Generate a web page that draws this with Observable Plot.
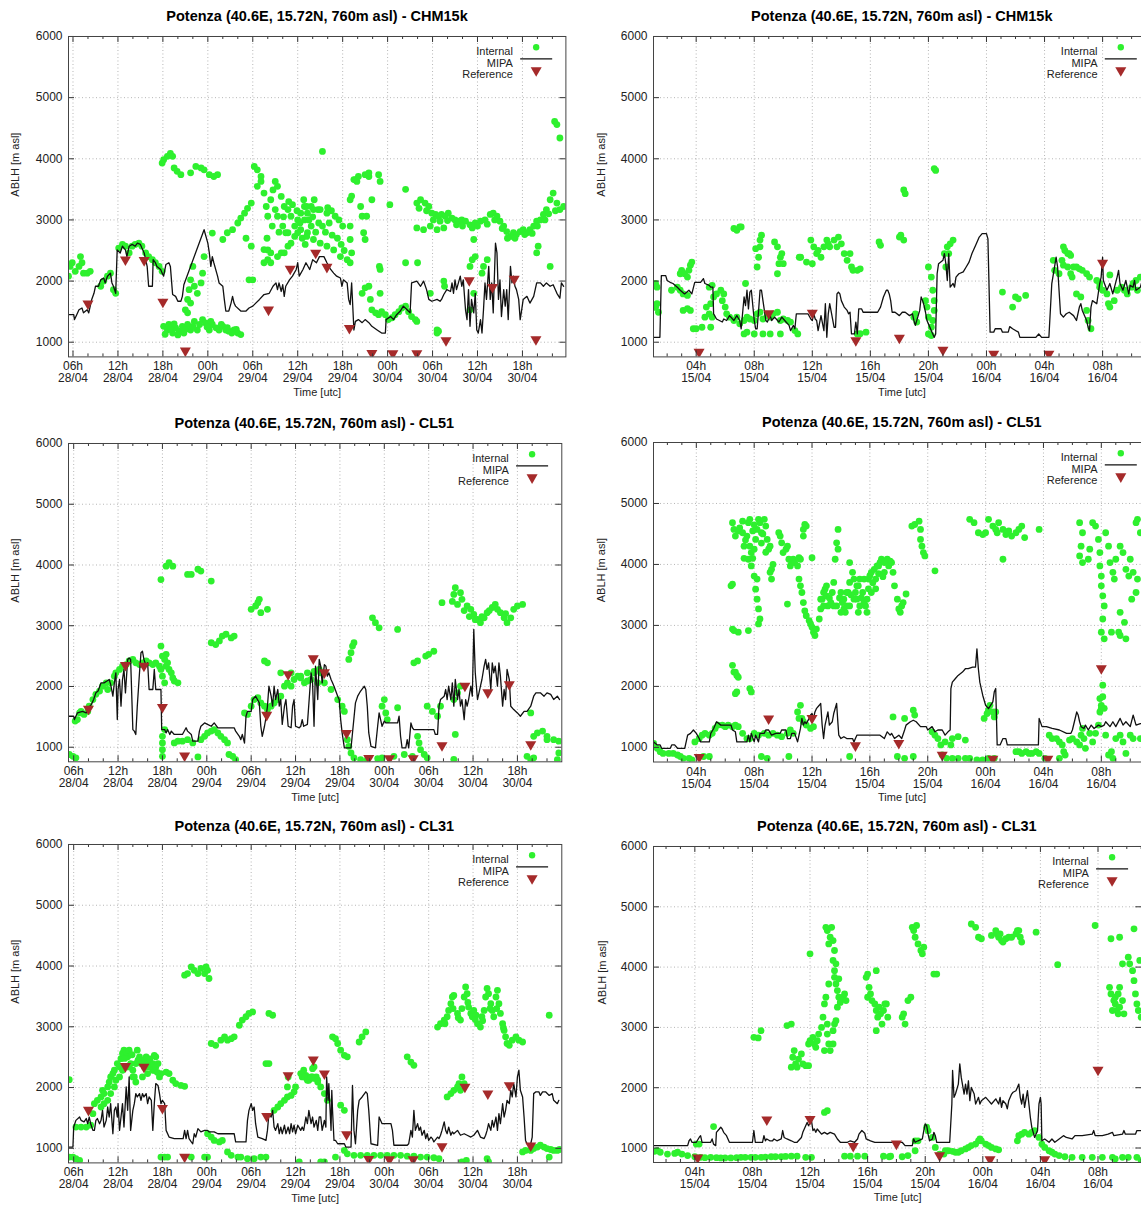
<!DOCTYPE html>
<html><head><meta charset="utf-8">
<script src="https://cdn.jsdelivr.net/npm/d3@7"></script>
<script src="https://cdn.jsdelivr.net/npm/@observablehq/plot@0.6"></script>
<style>
html,body{margin:0;padding:0;background:#fff;overflow:hidden;}
#root{position:relative;width:1141px;height:1208px;overflow:hidden;font-family:"Liberation Sans",Arial,Helvetica,sans-serif;background:#fff;}
.title{position:absolute;font-weight:bold;font-size:14.5px;color:#000;white-space:nowrap;transform:translate(-50%,-50%);}
svg{position:absolute;}
</style></head><body><div id="root"></div>
<script>
// ---- axis ticks (hours since 00h of first day) ----
const ticksApr28 = [6,12,18,24,30,36,42,48,54,60,66];
const minorApr28 = [8,10,14,16,20,22,26,28,32,34,38,40,44,46,50,52,56,58,62,64,68,70];
const ticksApr15 = [4,8,12,16,20,24,28,32];
const minorApr15 = [2,3,5,6,7,9,10,11,13,14,15,17,18,19,21,22,23,25,26,27,29,30,31,33,34,35];
const yTicks = [1000,2000,3000,4000,5000,6000];

// ---- Reference (triangles) ----
const reference28 = [[8,1630],[13,2350],[15.5,2340],[18,1660],[21,860],[32.1,1530],[35,2200],[38.4,2460],[39.9,2230],[42.9,1230],[45.9,820],[48.7,815],[51.9,815],[55.8,1030],[58.9,2010],[62,1900],[64.9,2035],[67.8,1045]];
const reference15 = [[4.2,840],[9,1470],[12,1480],[15,1030],[18,1070],[21,875],[24.5,810],[28.3,810],[32,2295]];

// ---- CHM15k 28-30/04 ----
const chm15k28Internal = [[5.4,2080],[5.6,2240],[5.9,2300],[6.3,2160],[6.8,2240],[7.0,2400],[7.2,2300],[7.4,2130],[7.9,2130],[8.3,2160],
[9.7,1915],[10.1,2000],[10.6,2080],[11,2130],[11.4,1860],[11.7,1800],
[12.1,2540],[12.6,2600],[13,2570],[13.5,2460],[13.9,2570],[14.3,2600],[14.8,2620],[15.2,2570],[15.7,2460],[16.1,2400],[16.6,2350],[17,2300],[17.5,2240],[17.9,2160],
[17.9,3930],[18.1,3985],[18.6,4040],[19,4090],[19.3,4040],[19.5,3850],[19.9,3795],[20.4,3740],[21.7,3770],[22.4,3875],[23.1,3850],[23.5,3820],[24.2,3740],[24.8,3710],[25.3,3740],
[18.1,1260],[18.6,1200],[18.8,1290],[19.3,1150],[19.7,1235],[20.2,1180],[20.6,1260],[20.8,1150],[21.3,1290],[21.7,1200],[22.2,1340],[22.6,1200],[23.3,1370],[23.7,1315],[24.2,1200],[24.6,1290],[25.1,1235],[25.5,1200],[26,1260],[26.4,1200],[26.8,1180],[27.5,1200],[28,1150],[28.4,1125],
[18.3,1130],[19,1220],[19.5,1300],[20,1120],[21,1210],[22,1260],[22.9,1290],[23.9,1250],[24.4,1340],[25.8,1290],[26.6,1240],[27.2,1150],[27.8,1210],
[21,1530],[21.3,1700],[21.5,1860],[21.7,2020],[22,2240],[22.2,1915],[22.6,1800],[23.1,1970],[23.3,2130],[23.5,2400],[21.3,1480],[21.7,1640],
[24.6,2785],[26,2680],[26.6,2790],[27.3,2840],[28,2950],[28.4,3030],[28.9,3110],[29.3,3190],[29.8,3275],[29.1,2700],[29.8,2570],[29.5,2020],[30,2020],
[30.2,3875],[30.6,3820],[31.1,3710],
[30.6,3550],[31.1,3630],[31.5,3440],[31.8,3220],[32,3060],[32.4,3330],[32.7,3490],[33,3630],[33.3,3550],[33.8,3385],[34.2,3220],[34.7,3170],[35.1,3060],[35.6,2900],[36,2790],[36.4,2840],[36.9,3000],[37.3,3110],[37.8,3220],[38.2,3330],[38.7,3170],[34.7,2790],[35.1,2620],[35.6,2730],[36,3000],[36.4,3110],[36.9,3220],[37.3,2790],[37.8,2900],[34.2,2460],[33.8,2460],[33.3,2400],[34.7,2570],[33,3170],[33.3,3060],[34,2900],[34.4,2790],[32,2510],[32.4,2460],[31.5,2300],[31.5,2515],[32,2350],[32.4,2300],
[31.9,2700],[32.6,2900],[33.5,2800],[34.1,3050],[34.8,3300],[35.3,3250],[35.9,3150],[36.3,2950],[36.6,2700],[37,2600],[37.5,3000],[38,3050],[38.4,2800],[38.8,2950],[39.3,2900],[39.7,2800],[40.2,2950],[40.6,2750],[41.3,2700],[41.8,2600],[42.2,2500],[40,3200],[40.5,3150],[41.5,3000],[42,2900],
[36.8,3330],[37.2,3220],[38.1,3170],[39,3170],[39.9,3110],[41,3060],[37.2,2730],[38.1,2680],[39,2620],[39.9,2570],[40.8,2510],[41.7,2400],[42.6,2350],[43,2300],
[43,3330],[43.2,3390],[43.5,3660],[43.9,3630],[44.4,3220],[44.6,3060],[44.8,2790],[45,2680],[45.2,3060],[45.5,3710],[45.9,3330],[43,2900],[43,2680],[43.2,2460],
[43.7,3660],[44.1,3710],[45,3740],[45.5,3770],[46.8,3740],[47,3630],
[44.6,1800],[45,1890],[45.5,1915],[45.7,1700],[45.9,1530],[46.4,1480],[46.8,1450],[47.2,1500],[47.7,1450],[48.1,1370],[48.6,1400],[49,1450],[49.5,1500],[49.9,1560],[50.4,1590],[50.8,1500],[51.2,1420],[51.7,1370],[51.9,1340],
[47,2190],[46.9,2240],[47,1800],[48.3,3250],[50.4,3500],[50.4,2300],[52,2300],[53.7,1800],[54.6,1200],[54.6,1150],[54.8,1180],[55.5,2000],[55.6,1915],[39.3,4120],
[51.9,3275],[52.4,3330],[53,3275],[53.5,3220],[53.9,3110],[54.4,3090],[54.8,3060],[55.2,3090],[55.7,3060],[56.1,3110],[56.6,3030],[57,3000],[57.5,2980],[57.9,3000],[58.4,2980],[59,2920],[59.7,2950],[60.4,2980],[61,3000],[61.7,3090],[62.1,3110],[62.6,3060],[63,2980],[63.5,2900],[63.9,2810],[64.4,2730],[64.8,2790],[65.2,2760],[65.7,2810],[66.1,2840],[66.6,2790],[67,2840],[67.5,2900],[67.9,2980],[68.4,3000],[68.8,3090],[69.2,3170],[69.7,3330],[70.1,3440],[70.6,3275],[71,3170],[71.5,3220],
[52.2,3190],[53.2,3150],[54.1,3000],[55,2980],[56,2990],[57.2,2920],[58,2900],[59.3,2870],[60,2900],[61.3,2930],[62.3,3000],[63.3,2860],[64,2700],[65,2700],[66.3,2760],[67.3,2780],[68,2900],[69,3000],[69.5,3100],[70.4,3150],
[51.9,2870],[52.8,2840],[53.7,2900],[54.6,2840],[55.5,2870],
[59.5,2680],[59.3,2350],[59,2240],[59.7,2400],[60.8,2240],[60.6,2130],[61.3,2350],[59,1530],[59.5,1800],[67.9,2460],[68.1,2570],[69.7,2240],[70.3,4610],[70.6,4560],[71,4340]];
const chm15k28Mipa = [[5.4,1450],[6.1,1450],[6.2,1370],[6.5,1450],[6.8,1530],[7.2,1560],[7.4,1480],[7.9,1530],[8.1,1480],[8.3,1590],[8.5,1700],[8.8,1800],[9,1915],[9.4,1915],[9.7,2020],[10.1,2050],[10.3,1970],[10.6,2080],[11,2130],[11.2,1970],[11.4,1915],[11.7,1800],[11.9,2510],[12.3,2460],[12.6,2570],[13,2510],[13.2,2400],[13.5,2570],[13.9,2600],[14.3,2570],[14.6,2620],[15,2600],[15.2,2540],[15.5,2460],[15.7,2350],[15.9,2240],[16.1,1915],[16.6,1915],[16.7,2350],[17,2300],[17.2,2240],[17.7,2190],[17.9,2130],[18.1,2080],[18.4,2270],[18.8,2300],[19,2240],[19.3,1780],[19.7,1750],[20,1670],[20.4,1670],[20.6,1750],[20.8,1940],[23.5,2840],[24,2620],[24.2,2460],[24.4,2240],[24.6,2400],[24.8,2300],[25.3,2080],[25.5,1970],[26,1915],[26.2,1700],[26.4,1510],[26.8,1510],[27.1,1640],[27.3,1750],[27.5,1640],[27.7,1590],[28.4,1510],[29.1,1510],[29.5,1560],[30,1590],[30.4,1640],[30.9,1700],[31.5,1780],[32.2,1800],[32.7,1915],[33.1,1970],[33.3,1860],[33.5,1970],[33.8,1830],[34,1940],[34.2,1750],[34.4,1915],[34.9,2020],[35.3,2080],[35.8,2190],[36,2300],[36.2,2080],[36.7,2190],[37.1,2300],[37.6,2190],[38,2350],[38.5,2300],[38.9,2400],[39.5,2400],[39.9,2300],[40.4,2190],[40.8,2130],[41.2,2080],[41.7,2050],[41.9,1915],[42.1,2020],[42.6,1970],[42.8,1700],[43,1615],[43.2,1970],[43.5,1200],[43.7,1340],[44.1,1370],[44.6,1320],[45,1370],[45.5,1320],[45.9,1260],[46.6,1200],[47.2,1150],[47.7,1150],[47.8,1370],[48.4,1420],[48.8,1370],[49.2,1450],[49.7,1510],[50.1,1590],[50.6,1530],[51,1480],[51.2,1970],[51.9,2000],[52.4,1915],[52.8,2000],[53.2,1860],[53.5,1700],[53.9,1670],[54.6,1700],[55,1670],[55.2,1700],[55.5,1780],[55.9,1860],[56.4,1830],[56.6,1970],[56.8,1800],[57,2020],[57.2,1860],[57.7,2080],[57.9,1915],[58.1,2020],[58.4,1530],[58.6,1370],[58.8,1860],[59,1260],[59.2,1700],[59.5,1480],[59.7,1800],[59.9,1200],[60.1,1150],[60.4,1370],[60.6,1150],[60.8,1530],[61,1970],[61.2,1700],[61.5,2240],[61.7,1700],[61.9,1970],[62.1,1480],[62.4,2620],[62.6,2460],[62.8,1700],[63,2020],[63.2,1420],[63.5,1860],[63.7,1590],[63.9,1860],[64.1,1370],[64.4,2240],[64.6,1970],[64.8,2080],[65,1915],[65.2,1860],[65.5,1700],[65.7,1370],[65.9,1530],[66.1,1700],[66.6,1750],[67,1640],[67.5,1750],[67.9,1970],[68.4,1970],[68.8,1915],[69.2,1970],[69.7,1915],[70.1,1940],[70.6,1800],[71,1720],[71.2,1970],[71.5,1915]];

// ---- CHM15k 15-16/04 ----
const chm15k15Internal = [[1.2,1960],[1.3,1900],[1.2,1570],[1.4,1490],[1.3,1630],
[2.9,2120],[3,2175],[3.2,2120],[3.4,2065],[3.6,2260],[3.7,2310],[3.5,2175],[3.1,1520],[3.4,1550],[3.6,1520],[2.9,1850],[3.1,1790],[3.4,1765],[2.7,1900],[2.3,1850],
[3.8,1220],[4,1220],[4.4,1245],[4.6,1410],[4.9,1465],[5.1,1410],[5,1245],[4.7,1575],[5,1630],[5.2,1740],[5.4,1790],[5.7,1850],[5.8,1680],[5.9,1790],[5.1,1930],[4.9,1900],[6,1575],
[6.1,1465],[6.3,1410],[6.6,1355],[6.8,1410],[7,1300],[7.3,1355],[7.5,1410],[7.7,1380],[8,1355],[8.2,1465],[8.4,1490],[8.6,1380],[8.9,1435],[9.1,1410],[9.3,1465],[9.6,1490],[9.8,1355],[10,1380],[10.3,1355],[10.5,1330],[10.8,1190],[11,1135],
[7.3,1135],[7.5,1165],[8,1135],[8.6,1135],[9.1,1135],[9.8,1135],
[6.6,2860],[6.8,2830],[7,2885],[7.1,2885],
[7.4,1960],[8.2,2230],[8.3,2390],[8.4,2560],[8.5,2750],[8.4,2670],[8.1,2530],
[9.4,2640],[9.6,2560],[9.7,2285],[9.8,2390],[9.9,2450],[10,2285],[9.6,2120],[11.1,2390],[11.2,2390],
[11.6,2310],[11.9,2670],[12,2285],[12.1,2560],[12.3,2450],[12.4,2500],[12.6,2390],[12.8,2560],[13,2670],[13.1,2610],[13.2,2560],[13.5,2670],[13.7,2560],[13.8,2720],[14,2610],[14.2,2450],[14.4,2340],[14.6,2450],[14.7,2230],[14.8,2175],[15.1,2175],[15.3,2200],
[15.1,1135],[15.3,1140],[15.7,1165],[16.6,2640],[16.7,2585],
[18,2720],[18.1,2750],[18.3,2670],[18.3,3490],[18.4,3430],[20.4,3840],[20.5,3810],
[20,2230],[20.2,2065],[20.3,1850],[20.4,1680],[20.4,1520],[20.3,1355],[20.2,1245],[20,1410],[19.9,1575],[19.8,1680],[19.1,1465],[19,1410],[19.2,1330],[20,1135],[20.2,1110],
[21.1,2450],[21.3,2560],[21.4,2450],[21.5,2610],[21.7,2670],[21.2,2230],
[25.1,1820],[25.8,1575],[26,1740],[26.2,1710],[26.7,1765],
[28.6,2340],[28.7,2175],[29,2120],[29.3,2560],[29.4,2500],[29.6,2450],[29.7,2450],[29.8,2420],[29.2,2340],[29.3,2260],[29.6,2230],[30,2230],[30.2,2230],[30.4,2200],[30.6,2175],[30.9,2120],[31.1,2065],[31.6,2010],[31.8,1960],[29.8,2120],[29.9,2065],[30.2,1790],[30.5,1740],[30.9,1520],[31,1355],[31.2,1220],
[31.8,1900],[32,1850],[32.3,1790],[32.4,1630],[32.5,1575],[32.8,1680],[33,1850],[33.3,1900],[33.5,1850],[33.7,1790],[34,1900],[34.1,1960],[34.3,2010],[34.6,2065],[34.4,1850],[32.5,2100]];
const chm15k15Mipa = [[1.06,1080],[1.5,1080],[1.6,2090],[1.9,2090],[2,2010],[2.2,1980],[2.4,1960],[2.7,1900],[2.9,1850],[3.2,1790],[3.5,1850],[3.7,1790],[3.9,1980],[4.3,1980],[4.5,2040],[4.6,1960],[4.9,1930],[5,1900],[5.15,1900],[5.2,1465],[5.4,1380],[5.8,1330],[5.9,1380],[6.1,1355],[6.3,1435],[6.6,1355],[6.8,1435],[7,1355],[7.1,1220],[7.3,1740],[7.4,1600],[7.5,1850],[7.6,1545],[7.7,1820],[7.8,1850],[8,1355],[8.1,1220],[8.2,1220],[8.3,1520],[8.4,1850],[8.5,1850],[8.6,1680],[8.8,1355],[8.9,1330],[9.1,1435],[9.2,1355],[9.4,1410],[9.7,1330],[9.9,1410],[10.1,1355],[10.4,1275],[10.5,1190],[10.7,1275],[10.8,1220],[10.9,1465],[11.3,1465],[11.5,1465],[11.7,1465],[11.9,1380],[12,1355],[12.1,1465],[12.2,1380],[12.3,1355],[12.4,1190],[12.6,1435],[12.8,1190],[12.9,1630],[13,1080],[13.1,1465],[13.2,1630],[13.5,1245],[13.6,1245],[13.7,1790],[13.8,1820],[13.9,1790],[14,1680],[14.2,1575],[14.4,1520],[14.5,1465],[14.6,1490],[14.7,1135],[14.9,1135],[15,1330],[15.1,1135],[15.2,1545],[15.4,1545],[15.5,1490],[15.8,1490],[16,1490],[16.5,1490],[16.7,1575],[16.9,1740],[17.1,1850],[17.2,1850],[17.3,1790],[17.4,1680],[17.5,1490],[17.7,1490],[18,1435],[18.2,1490],[18.4,1490],[18.7,1435],[18.9,1465],[19,1355],[19.1,1275],[19.4,1520],[19.5,1740],[19.6,1680],[19.7,1600],[19.8,1490],[19.9,1355],[20,1300],[20.3,1135],[20.4,1080],[20.5,1135],[20.6,2120],[20.7,2285],[21,2340],[21.1,2450],[21.2,2285],[21.3,2010],[21.4,2450],[21.5,1900],[21.7,1960],[21.8,1900],[21.9,2065],[22.1,2120],[22.4,2150],[22.6,2230],[22.8,2310],[23,2450],[23.3,2610],[23.5,2720],[23.7,2775],[24,2775],[24.1,2690],[24.2,1680],[24.25,1165],[24.5,1165],[24.6,1220],[25,1220],[25.1,1165],[25.5,1165],[25.6,1255],[25.8,1220],[26.2,1165],[26.3,1080],[26.7,1080],[27.4,1080],[27.6,1135],[27.8,1080],[28.3,1080],[28.5,1960],[28.8,2390],[28.9,2230],[29,1850],[29.1,1465],[29.3,1410],[29.5,1465],[29.7,1490],[30,1435],[30.2,1355],[30.4,1575],[30.5,1630],[30.6,1520],[30.9,1355],[31,1245],[31.1,1190],[31.2,1575],[31.3,1680],[31.6,1630],[31.8,1960],[31.9,2065],[32,2390],[32.05,2010],[32.3,1850],[32.5,1960],[32.7,1790],[33,2065],[33.1,2175],[33.2,1960],[33.4,1850],[33.6,2010],[33.8,1790],[33.9,1930],[34.1,1900],[34.2,2010],[34.3,1850],[34.6,1900],[34.8,2065],[35.1,1950]];

// ---- CL51 28-30/04 ----
const cl51_28Internal = [[5.4,880],[5.9,850],[6.3,825],[6.2,1430],[6.5,1455],[6.8,1565],[7,1590],[7.4,1540],[7.9,1590],[8.1,1675],[8.6,1785],[9,1870],[9.5,1925],[9.9,2005],[10.4,2060],[10.6,1950],[11,2060],[11.5,2170],[11.7,2225],[12.2,2280],[12.6,2335],[13.1,2360],[13.5,2420],[14,2445],[14.4,2390],[14.9,2360],[15.3,2390],[15.8,2420],[16.2,2390],[16.7,2360],[17.1,2390],[17.6,2335],[17.8,2665],[18,2500],[18.3,2445],[18.5,2530],[18.7,2390],[18.9,2280],[19.2,2225],[19.4,2140],[19.6,2090],[20.1,2060],[17.8,2280],[18,2170],[18.3,2060],[18.5,2335],
[18,1180],[18,1070],[18,960],[18,850],[18.3,1290],
[17.8,3760],[18.5,3980],[18.9,4040],[19.4,3980],[21.4,3845],[21.9,3845],[22.8,3930],[23.2,3900],[24.6,3735],
[24.6,2720],[25.2,2690],[25.7,2750],[26.1,2830],[26.6,2860],[27.3,2800],[27.7,2830],
[30,3270],[30.6,3325],[30.9,3380],[31.1,3435],[31.3,3215],[32.2,3270],[31.8,2420],[32.2,2390],
[19.6,1070],[20.1,1100],[20.7,1100],[21.4,1125],[22.1,1070],[22.8,840],[23.2,1125],[23.7,1180],[24.1,1235],[24.6,1265],[25,1290],[25.5,1235],[25.9,1180],[26.4,1125],[26.8,1070],[27,880],[27.5,850],[27.9,795],
[29.1,1565],[29.5,1540],[30,1675],[30.4,1785],[30.9,1815],[31.3,1730],[31.8,1675],[32.2,1620],[32.7,1675],[33.1,1730],[33.6,1785],[34,1840],[34.5,2005],[34.9,2060],[35.4,2005],[35.8,2115],[36.3,2170],[36.7,2140],[37.2,2060],[37.6,2090],[38.1,2115],[38.5,2225],[39,2060],[39.2,2280],[34,2225],[35.4,2225],
[36.7,2170],[37.6,2225],[38.5,2250],[39.4,2225],[39.9,2060],[40.8,1950],[41.7,1785],[42.3,1675],[42.6,1590],[43,1125],[43.2,1015],[43.5,905],[43.9,825],[44.8,795],[45.7,795],[47.1,810],[47.7,825],[49.3,850],[50.7,880],[51.8,850],
[43.2,2445],[43.5,2555],[43.7,2665],[43.9,2720],[46.4,3130],[46.8,3050],[47.3,2965],[49.8,2940],
[47.7,1675],[48,1785],[48.2,1565],[48.4,1455],[49.8,1650],
[52,2390],[52.5,2420],[53.6,2500],[54,2530],[54.7,2580],
[52.5,1180],[52.7,1070],[52.9,960],[53.4,880],[53.8,825],
[53.8,1675],[54.5,1590],[55.2,1510],[55.6,1675],[55.8,3380],[57.4,3515],[57.6,3625],[58.3,3545],[58.5,3435],[59.2,3325],[59.7,3270],[60.1,3185],[60.6,3105],[61,3050],[61.5,3130],[61.9,3215],[62.6,3300],[63.3,3270],[63.7,3215],[64.2,3130],[64.6,3050],[65.1,3130],[65.5,3270],[66,3325],[66.7,3350],
[57.2,3400],[57.9,3350],[58.8,3250],[59.5,3150],[60.3,3100],[61.2,3150],[62.2,3250],[63,3350],[64.4,3200],
[58.3,2005],[57.9,1895],[57.4,1785],[57.6,1210],[57.4,800],
[67.8,1565],[67.3,850],[67.8,795],[68.2,825],[68.2,1180],[68.7,1235],[69.4,1265],[70,1180],[70.9,1125],[71.6,1100],[71.6,905],[71.4,795],[70,1125]];
const cl51_28Mipa = [[5.4,1510],[6,1510],[6.1,1455],[6.5,1565],[7.2,1590],[7.7,1565],[8,1650],[8.4,1705],[8.7,1785],[9,1895],[9.3,1925],[9.7,2060],[10.1,2060],[10.5,2090],[10.8,2115],[11,2035],[11.3,1840],[11.5,2060],[11.7,2225],[11.9,1455],[12,1950],[12.2,2115],[12.4,1675],[12.6,2115],[12.8,2280],[13,1895],[13.3,2445],[13.5,2470],[13.7,2445],[14,1290],[14.2,1265],[14.4,1210],[14.6,1675],[14.9,2225],[15.1,2555],[15.3,2580],[15.5,2445],[15.8,2335],[16,2390],[16.2,1950],[16.7,1950],[16.9,2280],[17.1,1950],[17.8,1950],[17.9,1290],[18.3,1290],[18.5,1235],[18.7,1290],[19,1210],[19.2,1265],[19.6,1210],[20.1,1210],[20.7,1210],[21.2,1320],[21.4,1265],[21.9,1210],[22.1,1100],[22.8,1100],[23,1265],[23.2,1345],[23.7,1400],[24.1,1375],[24.6,1345],[25,1400],[25.5,1320],[27.7,1320],[27.9,1265],[28.4,1180],[28.6,1125],[28.8,1210],[29.1,1070],[29.3,1510],[29.5,1590],[30,1590],[30.2,1785],[30.6,1840],[31.1,1730],[31.3,1345],[31.5,1180],[31.8,1345],[32,1485],[32.2,1675],[32.4,2005],[32.7,1840],[32.9,1675],[33.1,2005],[33.3,1785],[33.6,1950],[33.8,1675],[34,1785],[34.2,1375],[34.5,1675],[34.7,1785],[35,1345],[35.4,1320],[35.6,1675],[35.8,1785],[36,1345],[36.5,1320],[36.7,1345],[36.9,1455],[37.1,1345],[37.6,1375],[38.1,2225],[38.3,2060],[38.5,1345],[38.7,2335],[39,1785],[39.2,2445],[39.4,2335],[39.6,2060],[39.9,2360],[40.1,2335],[40.3,2170],[40.5,2225],[40.8,2115],[41,2060],[41.2,2005],[41.7,1840],[41.9,1785],[42.1,1455],[42.3,1235],[42.6,990],[43.5,990],[43.7,1235],[44.1,1730],[44.4,1840],[44.8,1925],[45.3,2005],[45.5,1950],[45.7,1675],[45.9,1235],[46.2,1015],[46.8,990],[47.1,1345],[47.3,1565],[47.5,1455],[47.7,1345],[48,1430],[48.2,1400],[48.6,1400],[49.8,1400],[50,1510],[50.2,1180],[50.4,990],[50.9,990],[51.1,1125],[51.3,990],[51.6,1400],[51.8,1320],[52,1290],[52.5,1290],[54.7,1290],[54.9,1210],[55.2,1210],[55.4,1675],[55.6,1785],[56.1,1840],[56.3,1950],[56.5,1785],[56.7,2005],[57,1785],[57.2,2060],[57.4,1675],[57.6,2115],[57.9,1785],[58.1,1950],[58.3,1675],[58.5,1785],[58.8,1455],[59,1785],[59.2,1675],[59.4,1785],[59.7,2005],[59.9,1840],[60.1,2940],[60.3,2225],[60.6,1785],[60.8,1895],[61,2005],[61.2,2115],[61.5,2335],[61.7,2445],[61.9,2280],[62.1,2390],[62.4,1950],[62.6,2390],[62.8,2225],[63,2335],[63.3,2005],[63.5,2390],[63.7,2170],[64,1675],[64.2,1950],[64.4,1785],[64.6,2280],[64.9,2115],[65.1,1675],[65.5,1620],[66,1565],[66.4,1510],[66.9,1590],[67.3,1590],[67.8,1675],[68.2,1840],[68.5,1895],[69.1,1895],[69.6,1840],[70,1895],[70.5,1870],[70.9,1785],[71.4,1840],[71.7,1785]];

// ---- CL51 15-16/04 ----
const cl51_15Internal = [[1.05,1065],[1.3,985],[1.5,930],[1.7,900],[2.1,900],[2.4,900],[2.7,875],[2.9,850],[3.1,820],[3.5,820],[3.7,795],
[3.9,1090],[4.2,1145],[4.4,1200],[4.6,1230],[4.9,1200],[5.1,1230],[5.3,1310],[5.5,1365],[5.8,1365],[6,1340],[6.2,1365],[6.5,1340],[6.7,1365],[6.9,1340],[7.2,1230],[7.5,1145],[7.7,1145],[8,1230],[8.3,1200],[8.7,1230],[9,1200],[9.3,1230],[9.6,1200],[9.9,1175],[10.3,1230],[10.5,1285],[10.7,1230],[11,1580],[11.1,1475],[11.2,1690],[11.3,1475],[11.4,1420],[11.6,1365],[11.9,1310],[12.1,1340],
[4.5,850],[4.9,850],[8.5,850],[8.9,820],[10.4,850],[14.6,850],
[6.5,2345],[6.6,2235],[6.7,2235],[6.8,2180],[6.9,2150],[6.8,1910],[6.7,1880],[7.7,1965],[7.8,1910],[6.5,2940],[6.6,2915],[6.9,2890],[7.6,2915],[8.3,3025],
[6.4,3650],[6.5,3675],[6.5,4685],[6.6,4575],[6.7,4465],[6.9,4550],[7.2,4520],[7.3,4300],[7.5,4465],[7.7,4300],[7.8,4195],[8,4250],[8.1,4410],[8.2,4575],[8.3,4740],[8.4,4685],[8.5,4520],[8.7,4740],[8.8,4630],[8.9,4410],[9,4250],[9.1,4300],[7.6,4085],[7.8,3975],[8,3810],[7.7,4740],[7.2,4710],[7.6,4685],
[7,4600],[7.4,4400],[7.9,4550],[8.6,4500],[8.8,4200],[9.3,4000],[7.3,4100],[7.9,4100],[8.5,4350],[8,4650],
[8.1,3595],[8.2,3430],[8.3,3270],[8.4,3105],[8.2,3760],[9.1,3870],[9.2,3760],[9.2,3920],
[9.7,4520],[9.8,4465],[9.9,4355],[10,4195],[10.2,4250],[10.3,4300],[10.4,4085],[10.5,3975],[10.6,4030],[10.7,4085],[10.8,4030],[11,3975],[11.1,4110],[11.2,4085],[11.4,4575],[11.5,4655],[11.6,4630],[11.4,4465],[10.3,3350],
[11.1,3760],[11.2,3650],[11.3,3540],[11.4,3375],[11.5,3240],[11.6,3160],[11.8,3080],[11.9,3025],[12,2970],[12.1,2890],[12.2,2835],[12.3,2940],[12.5,3105],[12.6,3270],[12.7,3430],[12.8,3540],[12.9,3595],[13,3485],[13.1,3320],[13.3,3375],[13.4,3540],[13.5,3705],[13.6,4085],[13.7,4355],[13.8,4575],[13.8,4250],[14,3540],[14.1,3375],[14.2,3270],[14.3,3215],[14.4,3320],[14.5,3540],[14.6,3705],[14.8,3870],[14.9,3760],[15,3540],[15.1,3430],[15.2,3650],[15.3,3760],[15.5,3540],[15.6,3375],[15.7,3320],[15.8,3430],[15.9,3760],[16,3815],[16.1,3870],[16.3,3920],[16.5,3975],[16.7,4030],[17,4055],[17.2,4085],[17.4,4055],
[12.6,3430],[12.8,3320],[13,3650],[13.5,3320],[13.7,3320],[14,3215],[14.2,3430],[14.4,3540],[14.6,3320],[14.9,3430],[15.1,3650],[15.3,3320],[15.6,3760],[15.8,3215],[16.1,3540],[16.4,3760],[17,3870],[15.2,3215],[14.6,4030],[12,4110],
[13.2,3450],[13.9,3450],[14.7,3500],[15.4,3450],[16.2,3700],[16.6,3850],[16.9,3800],[15.9,3600],[16.4,3600],
[16.6,3975],[16.8,4085],[17,4030],[17.3,3975],[17.5,4030],[17.6,3870],[17.7,3650],[17.9,3430],[18,3270],[18.1,3215],[18.2,3320],[18.3,3375],[18.5,3515],
[18.9,4630],[19.1,4655],[19.4,4710],[19.5,4575],[19.5,4410],[19.6,4300],[19.7,4195],[19.8,4140],[20.5,3895],
[22.9,4740],[23.2,4685],[23.5,4520],[23.8,4490],[24,4520],[24.2,4740],[24.5,4630],[24.7,4575],[24.8,4520],[24.9,4685],[25.2,4575],[25.4,4490],[25.6,4550],[25.8,4465],[26.1,4520],[26.3,4575],[26.5,4630],[26.7,4440],[27.7,4575],[25.2,4085],
[17.6,1500],[17.9,850],[18.4,820],[19,850],[18.4,1475],[19,1610],[19.1,1530],[20.3,1255],[20.5,1200],[20.7,1145],[20.9,1040],[21,875],[21.3,820],[21.7,820],[22.1,820],[22.6,820],[22.9,820],[23.4,795],[23.8,795],[21.2,1090],[21.6,1040],[21.7,1145],[22.1,1175],[22.6,1120],
[23.9,1475],[24.1,1555],[24.2,1610],[24.5,1580],[24.6,1500],[24.7,1580],[24.3,1690],[24.2,820],[24.6,820],
[26.1,930],[26.3,930],[26.5,900],[26.8,930],[27,900],[27.2,900],[27.5,930],[27.7,900],[28.1,820],[28.4,1200],[28.6,1145],[28.9,1145],[29.1,1090],[29.3,1040],[29.4,930],[29.1,820],[29.5,875],[29.8,1120],[30,1145],[30.3,1090],[30.5,1040],[30.6,1200],[30.7,1310],[30.8,1145],[30.9,985],[31.2,1230],[31.4,1090],[31.6,1230],[31.8,1365],[31.9,1580],[32,1690],[32.1,1830],[32.2,1640],[32.3,1200],[32.5,875],[32.7,930],[32.8,820],[33,1145],[33.3,1200],[33.5,1090],[33.7,900],[34,1200],[34.2,1145],[34.7,1145],
[30.5,4685],[30.7,4520],[30.6,4300],[30.5,4140],[30.7,4030],[31.1,4085],[31.2,4250],[31.4,4685],[31.6,4630],[31.8,4410],[31.9,4195],[31.9,3975],[32,3810],[32,3650],[32.1,3485],[32.2,3320],[32.1,3105],[32,2890],[32.2,2780],[32.3,4520],[32.5,4300],[32.6,4030],[32.8,3870],[32.9,3760],[33,4085],[33.3,4300],[33.5,4195],[33.7,3920],[33.9,3810],[34,4085],[34.2,3870],[34.4,3540],[34.5,3760],[34.7,4520],[34.5,4740],[33.3,3215],[33.6,3050],[33.2,2890],[32.7,2890],[33.3,2835],[33.7,2780],[34.1,3430],[34.4,4685],[31.9,1800],[32.1,2020],[32,1640]];
const cl51_15Mipa = [[1.05,1090],[1.3,1040],[1.5,1040],[1.6,985],[2.2,985],[2.3,1040],[2.5,1040],[2.7,985],[3.2,985],[3.4,1200],[3.6,1230],[3.8,1285],[4,1230],[4.2,1145],[4.3,1090],[4.9,1090],[5,1230],[5.2,1310],[5.3,1365],[5.4,1420],[5.7,1365],[6.4,1365],[6.5,1285],[6.7,1255],[6.8,1090],[7.5,1090],[7.6,1200],[7.7,1090],[7.8,1230],[8,1090],[8.1,1200],[8.3,1090],[8.4,1230],[8.7,1230],[8.8,1285],[9,1285],[9.2,1200],[9.5,1230],[9.8,1230],[9.9,1285],[10.2,1285],[10.3,1145],[10.5,1145],[10.6,1230],[10.8,1230],[11,1090],[11.1,1200],[11.2,1310],[11.3,1475],[11.4,1365],[11.5,1420],[11.6,1390],[11.8,1475],[11.9,1530],[12,1555],[12.1,1475],[12.2,1580],[12.3,1635],[12.5,1690],[12.6,1720],[12.7,1365],[12.8,1145],[12.9,1365],[13.1,1580],[13.2,1365],[13.4,1420],[13.5,1555],[13.7,1720],[13.8,1365],[13.85,1200],[14,1145],[14.2,1175],[14.4,1145],[14.8,1145],[14.9,1090],[15,1145],[15.1,1200],[15.6,1200],[16,1200],[16.7,1200],[17,1145],[17.2,1255],[17.4,1200],[17.5,1230],[17.7,1145],[18,1200],[18.2,1145],[18.4,1285],[18.5,1365],[18.8,1420],[19,1445],[19.2,1420],[19.5,1340],[19.7,1340],[19.9,1340],[20,1285],[20.3,1340],[20.5,1255],[20.7,1285],[21,1285],[21.2,1200],[21.4,1255],[21.55,1285],[21.6,1965],[21.7,2070],[21.9,2125],[22.1,2180],[22.4,2235],[22.6,2290],[22.8,2290],[23.1,2315],[23.3,2315],[23.4,2615],[23.5,2290],[23.6,2070],[23.8,1855],[24,1690],[24.2,1635],[24.5,1745],[24.6,1910],[24.7,1965],[24.8,1040],[25,1040],[25.2,1145],[25.4,1145],[25.5,1040],[25.8,1040],[26.3,1040],[27.2,1040],[27.65,1040],[27.7,1475],[27.9,1340],[28.2,1340],[28.6,1310],[29.1,1285],[29.6,1230],[29.9,1230],[30,1285],[30.3,1580],[30.4,1530],[30.5,1420],[30.6,1340],[30.8,1310],[30.9,1365],[31.1,1285],[31.3,1365],[31.5,1310],[31.8,1365],[32,1340],[32.2,1365],[32.3,1420],[32.6,1340],[32.8,1420],[33,1340],[33.3,1475],[33.5,1365],[33.7,1420],[34,1340],[34.2,1530],[34.4,1365],[34.7,1390],[35.1,1380]];

// ---- CL31 28-30/04 ----
const cl31_28Internal = [[5.4,2130],[5.4,855],[5.9,855],[6.3,830],[6.8,800],
[6.3,1350],[7,1350],[7.7,1350],[8.3,1380],[8.6,1570],[8.8,1735],[9.2,1790],[9.7,1845],[9.9,1955],[10.1,1900],[10.6,2010],[10.8,2090],[11,2175],[11.3,2230],[11.5,2285],[11.7,2120],[11.9,2395],[12.2,2340],[12.4,2475],[12.6,2560],[12.8,2615],[13.1,2585],[13.3,2505],[13.5,2615],[13.7,2395],[14,2285],[14.2,2175],[14.4,2395],[14.6,2615],[14.9,2505],[15.1,2395],[15.3,2420],[15.5,2450],[15.8,2505],[16,2395],[16.2,2340],[16.5,2365],[16.7,2285],[16.9,2285],[17.1,2505],[17.4,2395],[17.6,2175],[17.8,2230],[18.5,2255],[18.9,2230],[19.4,2120],[19.8,2065],[20.5,2035],[21,2020],
[9.7,1680],[10.1,1735],[10.6,1790],[11,1900],[11.5,2010],[12.2,2175],[12.6,2285],[13.1,2340],[13.5,2340],[14,2175],[14.4,2090],[15.3,2175],[16,2230],[16.7,2395],[17.1,2340],[16.9,2530],[12.9,2480],[13.9,2540],[14.7,2450],[15.6,2330],[16.3,2470],[17.3,2250],
[17.8,855],[18.3,855],[18.7,855],[21.9,855],[23.7,855],[24.1,855],
[21,3850],[21.4,3875],[21.9,3985],[22.3,3930],[22.8,3875],[23.2,3960],[23.7,3875],[23.9,3985],[24.1,3930],[24.3,3795],
[24.6,2725],[25.2,2695],[25.9,2780],[26.4,2835],[26.8,2780],[27.3,2805],[27.7,2835],[28.4,3025],[28.8,3110],[29.3,3165],[29.7,3220],[30.2,3245],[32.4,3220],[32.9,3190],
[24.1,1240],[24.6,1185],[25,1130],[25.7,1105],[26.1,1130],
[26.8,940],[27.3,885],[28.2,855],[28.6,855],[29.5,830],[30.4,830],[31.3,855],[32,855],
[32,2395],[32.4,2395],
[33.1,1625],[33.6,1680],[34,1735],[34.5,1790],[34.9,1845],[35.4,1870],[35.8,1930],[36,2010],[34.9,2010],[35,2175],[36.5,775],
[36.9,2175],[37.4,2200],[37.8,2120],[38.3,2175],[38.5,2340],[38.8,2175],[39,2120],[37.1,2285],[38.3,2310],
[36.7,2230],[37.2,2175],[37.6,2120],[38.1,2175],[38.5,2150],[39,2090],[39.4,2010],[39.9,1900],[40.3,1790],
[41,2835],[41.4,2805],[41.7,2725],[42.1,2615],[42.6,2530],[43,2505],[44.6,2750],[45,2835],[45.5,2915],
[42.1,1710],[42.6,1625],
[41.4,855],[42.6,965],[43,910],[43.9,885],[44.8,885],[45.7,885],[46.6,885],[47.5,885],[48.4,885],[49.3,885],[50.2,885],[51.1,870],[52,870],[52.9,855],[53.8,855],[54.7,845],[55.4,830],[39.4,775],[39.9,775],
[51.1,2505],[51.6,2420],[52,2365],
[55.2,2995],[55.6,3050],[56.1,3110],[56.5,3165],[56.7,3270],[57,3380],[57.2,3490],[57.4,3515],[57.9,3220],[58.3,3110],[58.5,3300],[58.8,3490],[59,3655],[59.2,3545],[59.4,3325],[59.7,3220],[59.9,3165],[60.1,3270],[60.4,3190],[60.6,3050],[61,2995],[61.2,3165],[61.5,3270],[61.7,3490],[61.9,3630],[62.1,3545],[62.4,3380],[62.6,3270],[62.8,3165],[63.1,3490],[63.3,3600],[63.5,3380],[63.7,3220],[64,3050],[64.2,2940],[64.4,2835],[64.6,2725],[64.9,2695],[65.3,2780],[65.8,2835],[66.2,2780],[66.7,2750],[70.3,3190],
[56.2,3050],[57.3,3300],[58,3150],[59.3,3400],[60.3,3120],[61.3,3100],[62.3,3300],[63.2,3300],[64.1,2980],
[56.5,1845],[57,1900],[57.4,1955],[57.9,2010],[58.1,2065],[58.5,2175],[58.8,2065],[58.3,1955],
[58.5,775],[59.1,800],[61.9,830],[62.1,775],
[66.7,940],[67.1,965],[67.8,965],[68.2,995],[68.7,1020],[69.1,1050],[69.6,1020],[70,995],[70.5,980],[70.9,965],[71.4,965],[71.7,980],[70.3,855]];
const cl31_28Mipa = [[5.4,1020],[5.9,1020],[6,1350],[6.3,1460],[6.8,1515],[7,1460],[7.4,1435],[7.7,1490],[7.9,1405],[8.1,1515],[8.3,1405],[8.6,1295],[8.8,1295],[9,1460],[9.2,1490],[9.5,1405],[9.7,1460],[9.9,1625],[10.1,1350],[10.4,1460],[10.6,1680],[10.8,1515],[11,1735],[11.3,1240],[11.5,1625],[11.7,1680],[11.9,1515],[12,1735],[12.2,1295],[12.4,1515],[12.6,1735],[12.8,1350],[13.1,2010],[13.3,1625],[13.5,2175],[13.7,1295],[14,1625],[14.2,1735],[14.4,1900],[14.6,1845],[14.9,1900],[15.1,1790],[15.3,1900],[15.5,1845],[15.8,1900],[16,1735],[16.2,1845],[16.5,1790],[16.7,1295],[16.9,1735],[17.1,2065],[17.4,2035],[17.6,1900],[17.8,1735],[18,1790],[18.3,1735],[18.5,1295],[18.9,1185],[19.6,1160],[20.8,1160],[21,1295],[21.2,1160],[21.4,1295],[21.6,1160],[21.9,1105],[22.1,1075],[22.3,1240],[22.5,1185],[22.8,1325],[23.2,1270],[23.7,1295],[24.1,1295],[24.3,1270],[25,1270],[25.5,1240],[27.7,1240],[27.9,1105],[29.3,1105],[29.5,1460],[29.7,1625],[30,1735],[30.2,1625],[30.4,1680],[30.6,1405],[30.9,1185],[31.5,1160],[32,1130],[32.2,1295],[32.4,1570],[32.7,1515],[32.9,1625],[33.1,1350],[33.3,1295],[33.6,1405],[33.8,1240],[34,1350],[34.2,1240],[34.5,1380],[34.7,1240],[35,1350],[35.2,1240],[35.4,1405],[35.6,1270],[35.8,1380],[36,1240],[36.3,1380],[36.7,1295],[36.9,1350],[37.1,1295],[37.4,1515],[37.6,1405],[37.8,1625],[38.1,1405],[38.3,1515],[38.5,1350],[38.8,1460],[39,1295],[39.2,1515],[39.4,1515],[39.6,1295],[39.9,1460],[40.1,1350],[40.2,2175],[40.4,1790],[40.5,2065],[40.8,1295],[40.9,1955],[41,1625],[41.2,1130],[41.4,1130],[41.7,1075],[42.6,1075],[42.8,1020],[43.5,1020],[43.7,2035],[43.9,1295],[44.1,1075],[44.4,1625],[44.6,1790],[45,1845],[45.5,1930],[45.7,1900],[45.9,1625],[46.2,1075],[47.1,1050],[47.3,1515],[47.7,1405],[48.9,1405],[49.1,1295],[49.3,1050],[51.1,1050],[51.3,1075],[51.6,1295],[51.8,1185],[52,1625],[52.2,1295],[52.5,1405],[52.7,1295],[52.9,1350],[53.1,1215],[53.4,1295],[53.6,1160],[53.8,1240],[54,1130],[54.3,1185],[54.5,1160],[54.7,1105],[55.2,1185],[55.4,1160],[55.6,1215],[55.8,1295],[56.1,1435],[56.3,1295],[56.5,1240],[56.7,1350],[57,1215],[57.2,1270],[57.4,1240],[57.9,1295],[58.3,1215],[58.8,1240],[59.2,1215],[59.7,1185],[60.1,1215],[60.6,1295],[61,1185],[61.5,1160],[61.7,1215],[61.9,1295],[62.1,1405],[62.4,1295],[62.6,1460],[62.8,1350],[63.1,1515],[63.3,1295],[63.5,1570],[63.7,1405],[64,1735],[64.2,1515],[64.4,1625],[64.6,1790],[64.9,1735],[65.1,1955],[65.3,1845],[65.5,2065],[65.8,1845],[66,2175],[66.2,2285],[66.4,1955],[66.7,1845],[66.9,1515],[67.1,1130],[67.3,1075],[67.8,1075],[68,1185],[68.2,1900],[68.5,1930],[68.9,1930],[69.1,1870],[69.4,1930],[69.8,1930],[70.3,1870],[70.7,1900],[70.9,1790],[71.4,1735],[71.6,1790]];

// ---- CL31 15-16/04 ----
const cl31_15Internal = [[1.2,945],[1.4,955],[1.6,930],[2.1,900],[2.6,910],[2.8,930],[3.1,900],[3.5,875],[4,855],[4.4,845],[5.1,845],[5.8,835],[6.5,835],[7.2,845],[7.9,845],[8.6,845],[9.3,855],[10,855],[10.7,865],[11.1,865],[11.7,845],[12.1,845],[14.4,865],[14.8,865],[15.3,865],[15.8,865],[17.1,865],[17.6,865],
[4.7,840],[5.5,840],[6.1,835],[6.9,840],[7.5,845],[8.2,845],[8.9,850],[9.6,855],[10.3,860],
[4.1,1065],[4.3,1065],[5.3,1355],
[8.1,2835],[8.4,2825],[8.6,2945],[10.4,3030],[10.7,3055],
[10.7,2340],[10.8,2505],[10.9,2615],[11,2395],[11.2,2475],[11.4,2560],[11.5,2395],[11.7,2365],[11.9,2365],[11.1,2340],
[12,4220],
[11.9,2725],[12,2780],[12.2,2835],[12.3,2725],[12.4,2670],[12.5,2780],[12.6,2890],[12.8,3000],[12.9,3170],[13,3390],[13.1,3500],[13.2,3055],[13.3,2725],[13.4,2615],[13.6,2725],[13.7,3055],[13,2615],
[13.3,3720],[13.1,4660],[13.2,4605],[13.3,4385],[13.4,4495],[13.6,4110],[13.7,3940],[13.8,4055],[13.5,4660],
[13.6,4440],[13.7,4275],[13.7,3830],[13.8,3720],[13.9,3610],[14,3500],[14.1,3415],[14.3,3500],[14.4,3555],[14.5,3445],[13.9,3335],[13.8,3110],[13.6,2945],[14,3805],[13.2,2890],
[13,1590],[13.2,1620],
[15.9,3830],[16,3885],[16.1,3665],[16,3500],[16.2,3555],[16.3,3445],[16.5,3390],[16.6,3280],[16.7,3170],[16.8,3335],[16.9,3225],[17,3055],[17.1,3280],[17.3,3390],[17.4,3170],[16.6,3940],[16.6,2945],
[17.2,3390],[18.4,3170],[18.5,3225],[18.6,3055],[18.8,3445],[19,3500],
[19.1,4660],[19.2,4605],[19.3,4495],[19.4,4690],[19.5,4385],[19.7,4275],[19.8,4220],[19.9,4330],
[20.6,3885],[20.8,3885],
[23.2,4715],[23.5,4660],[23.7,4495],[23.9,4470],[24.6,4525],[24.9,4605],[25,4550],[25.1,4495],[25.2,4550],[25.3,4440],[25.4,4415],[25.6,4470],[25.8,4495],[26,4495],[26.3,4550],[26.4,4605],[26.5,4605],[26.6,4495],[26.7,4415],[27.7,4580],[29.2,4040],
[31.8,4690],[32.9,4470],[33.5,4495],[34.5,4635],
[32.8,3665],[32.9,3555],[33.1,3445],[33.2,3390],[33.3,3280],[33.4,3225],[33.5,3335],[33.7,3445],[33.8,3225],[33,3280],[33.2,3500],[33.4,3555],[33.5,3665],[33.7,4055],[34.1,4165],[34.2,4055],[34.4,3940],[34.5,3775],[34.6,3555],[34.7,3390],[34.8,3280],[35,3170],[34.9,4110],
[17.5,855],[18.4,855],[18.8,875],[19.3,955],[19.3,1120],[19.5,1120],[20.1,1345],[20.2,1285],[20.5,1175],[20.7,1010],[21,900],[21.3,900],[21.4,955],[21.6,955],[21.9,945],[22.1,930],[22.3,930],[22.5,955],[22.8,985],[23,1010],[23.2,1040],[23.5,1065],[23.7,1120],[23.8,1150],[23.9,1120],[24.2,1065],[24.4,1040],[24.6,1010],[24.9,985],[25.1,970],
[26.4,1120],[26.5,1205],[26.7,1230],[26.9,1260],[27.2,1230],[27.4,1260],[27.6,1290],[27.9,1175],[28.1,1065],[28.3,1010],[28.6,955],[28.8,930],[29,900],[29.3,875],[29.7,855],[30.2,845],[30.9,845],[31.6,845],[32.3,845],[33,845],[33.2,820],[33.7,845],[34.1,845],[34.7,845],[35,790]];
const cl31_15Mipa = [[1.13,1040],[3.5,1040],[3.6,1120],[3.7,1150],[3.8,1095],[4.1,1095],[4.3,1175],[4.4,1205],[4.5,1095],[4.9,1095],[5.1,1095],[5.2,1150],[5.3,1065],[5.45,1040],[5.5,1260],[5.7,1315],[5.8,1345],[5.9,1315],[6,1260],[6.2,1205],[6.3,1150],[6.4,1095],[8,1095],[8.1,1290],[8.2,1095],[8.7,1095],[8.8,1205],[8.9,1120],[9,1150],[9.2,1120],[9.4,1120],[9.5,1150],[9.7,1120],[10,1150],[10.1,1290],[10.2,1175],[10.4,1150],[10.7,1120],[10.9,1095],[11.1,1095],[11.4,1175],[11.5,1260],[11.6,1315],[11.7,1370],[11.8,1425],[11.9,1370],[12.1,1455],[12.2,1290],[12.3,1315],[12.4,1260],[12.5,1315],[12.8,1230],[13,1260],[13.2,1230],[13.4,1260],[13.7,1230],[13.9,1150],[14.1,1095],[14.6,1095],[14.8,1120],[15.1,1095],[15.3,1150],[15.4,1230],[15.6,1290],[15.8,1245],[15.9,1150],[16.2,1120],[16.5,1095],[17.6,1095],[18.4,1095],[18.6,1040],[19.1,1040],[19.2,1150],[19.3,1095],[19.5,1120],[19.8,1150],[19.9,1290],[20,1400],[20.1,1370],[20.2,1230],[20.3,1120],[20.5,1150],[20.6,1260],[20.7,1205],[20.8,1095],[21,1095],[21.7,1095],[21.85,1730],[21.9,2285],[22,1840],[22.1,1895],[22.3,2060],[22.4,2395],[22.5,2175],[22.7,1895],[22.8,2060],[22.9,1895],[23,2115],[23.1,1785],[23.2,2005],[23.4,1895],[23.5,1730],[23.6,1785],[23.7,1840],[23.8,1730],[23.9,1785],[24.2,1840],[24.4,1785],[24.6,1730],[24.9,1815],[25.1,1730],[25.2,1840],[25.3,1675],[25.4,1785],[25.6,1730],[25.7,1650],[25.8,1785],[26,1895],[26.1,1925],[26.3,1950],[26.4,2005],[26.5,2060],[26.6,1840],[26.7,1730],[26.8,1895],[26.9,1675],[27.1,1950],[27.2,1730],[27.3,1510],[27.4,1345],[27.5,1260],[27.6,1175],[27.8,1290],[27.9,1730],[28,1840],[28.05,1730],[28.1,1120],[28.3,1150],[28.6,1095],[28.8,1150],[29,1095],[29.3,1150],[29.6,1205],[29.8,1175],[30.2,1150],[30.4,1205],[30.9,1205],[31.6,1230],[31.7,1290],[31.8,1205],[32.3,1205],[32.7,1230],[33,1260],[33.1,1205],[33.7,1230],[33.8,1290],[33.9,1230],[34.6,1230],[34.7,1290],[35.1,1290]];

// ---- drawing ----
const GREEN = "#2ef02e", REF = "#a52a2a", FONT = '"Liberation Sans", Arial, Helvetica, sans-serif';
const pad = n => String(n).padStart(2, "0");
const fmt28 = h => `${pad(h % 24)}h\n${28 + Math.floor(h / 24)}/04`;
const fmt15 = h => `${pad(h % 24)}h\n${15 + Math.floor(h / 24)}/04`;
const fmtY = d => String(d);
const lineSym = {draw(ctx) { ctx.moveTo(-16, 0); ctx.lineTo(16, 0); }};
const root = document.getElementById("root");

function panel(cfg) {
  const {internal, mipa, reference, xDomain, majors, minors, fmt, fx, fy, fw, fh, title, ty, ylabDx} = cfg;
  const mL = 72, mR = 20, mT = 12, mB = 52;
  const toObj = a => a.map(([h, v]) => ({h, v}));
  const chart = Plot.plot({
    width: mL + fw + mR, height: mT + fh + mB,
    marginLeft: mL, marginRight: mR, marginTop: mT, marginBottom: mB,
    style: {fontFamily: FONT, fontSize: "12px", color: "#222", background: "transparent", overflow: "visible"},
    x: {domain: xDomain},
    y: {domain: [760, 6000]},
    marks: [
      Plot.gridX(majors, {stroke: "#8a8a8a", strokeOpacity: 0.9, strokeWidth: 0.7, strokeDasharray: "1,2.5"}),
      Plot.gridY(yTicks, {stroke: "#8a8a8a", strokeOpacity: 0.9, strokeWidth: 0.7, strokeDasharray: "1,2.5"}),
      Plot.dot(toObj(internal), {x: "h", y: "v", r: 3.4, fill: GREEN, clip: true}),
      Plot.line(toObj(mipa), {x: "h", y: "v", stroke: "#111", strokeWidth: 1.3, clip: true}),
      Plot.dot(toObj(reference), {x: "h", y: "v", symbol: "triangle", rotate: 180, r: 4.1, fill: REF, clip: true}),
      Plot.tickX(majors, {x: d => d, stroke: "#333", insetTop: fh - 6}),
      Plot.tickX(majors, {x: d => d, stroke: "#333", insetBottom: fh - 6}),
      Plot.tickX(minors, {x: d => d, stroke: "#333", insetTop: fh - 3}),
      Plot.tickX(minors, {x: d => d, stroke: "#333", insetBottom: fh - 3}),
      Plot.tickY(yTicks, {y: d => d, stroke: "#333", insetRight: fw - 6}),
      Plot.tickY(yTicks, {y: d => d, stroke: "#333", insetLeft: fw - 6}),
      Plot.frame({stroke: "#444", strokeWidth: 1}),
      Plot.axisX(majors, {tickSize: 0, tickPadding: 5, tickFormat: fmt, fontSize: 12, label: null}),
      Plot.axisY(yTicks, {tickSize: 0, tickPadding: 6, tickFormat: fmtY, fontSize: 12, label: null}),
      Plot.text(["Time [utc]"], {text: d => d, frameAnchor: "bottom", dy: 39, fontSize: 11}),
      Plot.text(["ABLH [m asl]"], {text: d => d, frameAnchor: "left", dx: ylabDx, rotate: -90, fontSize: 11}),
      Plot.text(["Internal"], {text: d => d, frameAnchor: "top-right", dx: -53, dy: 10.7, textAnchor: "end", fontSize: 11}),
      Plot.text(["MIPA"], {text: d => d, frameAnchor: "top-right", dx: -53, dy: 22.3, textAnchor: "end", fontSize: 11}),
      Plot.text(["Reference"], {text: d => d, frameAnchor: "top-right", dx: -53, dy: 34, textAnchor: "end", fontSize: 11}),
      Plot.dot(["Internal"], {frameAnchor: "top-right", dx: -29.7, dy: 10.7, r: 3.2, fill: GREEN}),
      Plot.dot(["MIPA"], {frameAnchor: "top-right", dx: -29.7, dy: 22.3, symbol: lineSym, stroke: "#111", strokeWidth: 1.3, fill: "none"}),
      Plot.dot(["Reference"], {frameAnchor: "top-right", dx: -29.7, dy: 34, symbol: "triangle", rotate: 180, r: 4.1, fill: REF})
    ]
  });
  chart.style.left = (fx - mL) + "px";
  chart.style.top = (fy - mT) + "px";
  root.appendChild(chart);
  const t = document.createElement("div");
  t.className = "title";
  t.textContent = title;
  t.style.left = (fx + fw / 2) + "px";
  t.style.top = ty + "px";
  root.appendChild(t);
}

panel({internal: chm15k28Internal, mipa: chm15k28Mipa, reference: reference28, xDomain: [5.4, 71.8], majors: ticksApr28, minors: minorApr28, fmt: fmt28,
  fx: 68.3, fy: 36.3, fw: 497.4, fh: 320.4, title: "Potenza (40.6E, 15.72N, 760m asl) - CHM15k", ty: 15.7, ylabDx: -53.3});
panel({internal: chm15k15Internal, mipa: chm15k15Mipa, reference: reference15, xDomain: [1.06, 35.3], majors: ticksApr15, minors: minorApr15, fmt: fmt15,
  fx: 653.3, fy: 36.3, fw: 497, fh: 320.4, title: "Potenza (40.6E, 15.72N, 760m asl) - CHM15k", ty: 15.7, ylabDx: -51.6});
panel({internal: cl51_28Internal, mipa: cl51_28Mipa, reference: reference28, xDomain: [5.3, 72.0], majors: ticksApr28, minors: minorApr28, fmt: fmt28,
  fx: 67.7, fy: 442.7, fw: 493.3, fh: 318.3, title: "Potenza (40.6E, 15.72N, 760m asl) - CL51", ty: 423, ylabDx: -52.7});
panel({internal: cl51_15Internal, mipa: cl51_15Mipa, reference: reference15, xDomain: [1.04, 35.4], majors: ticksApr15, minors: minorApr15, fmt: fmt15,
  fx: 653.3, fy: 441.5, fw: 497, fh: 319.5, title: "Potenza (40.6E, 15.72N, 760m asl) - CL51", ty: 421.7, ylabDx: -51.6});
panel({internal: cl31_28Internal, mipa: cl31_28Mipa, reference: reference28, xDomain: [5.3, 72.0], majors: ticksApr28, minors: minorApr28, fmt: fmt28,
  fx: 67.7, fy: 844.3, fw: 493.3, fh: 318.4, title: "Potenza (40.6E, 15.72N, 760m asl) - CL31", ty: 825.5, ylabDx: -52.7});
panel({internal: cl31_15Internal, mipa: cl31_15Mipa, reference: reference15, xDomain: [1.13, 35.04], majors: ticksApr15, minors: minorApr15, fmt: fmt15,
  fx: 652.7, fy: 846, fw: 488.3, fh: 316, title: "Potenza (40.6E, 15.72N, 760m asl) - CL31", ty: 825.5, ylabDx: -51});
</script></body></html>
